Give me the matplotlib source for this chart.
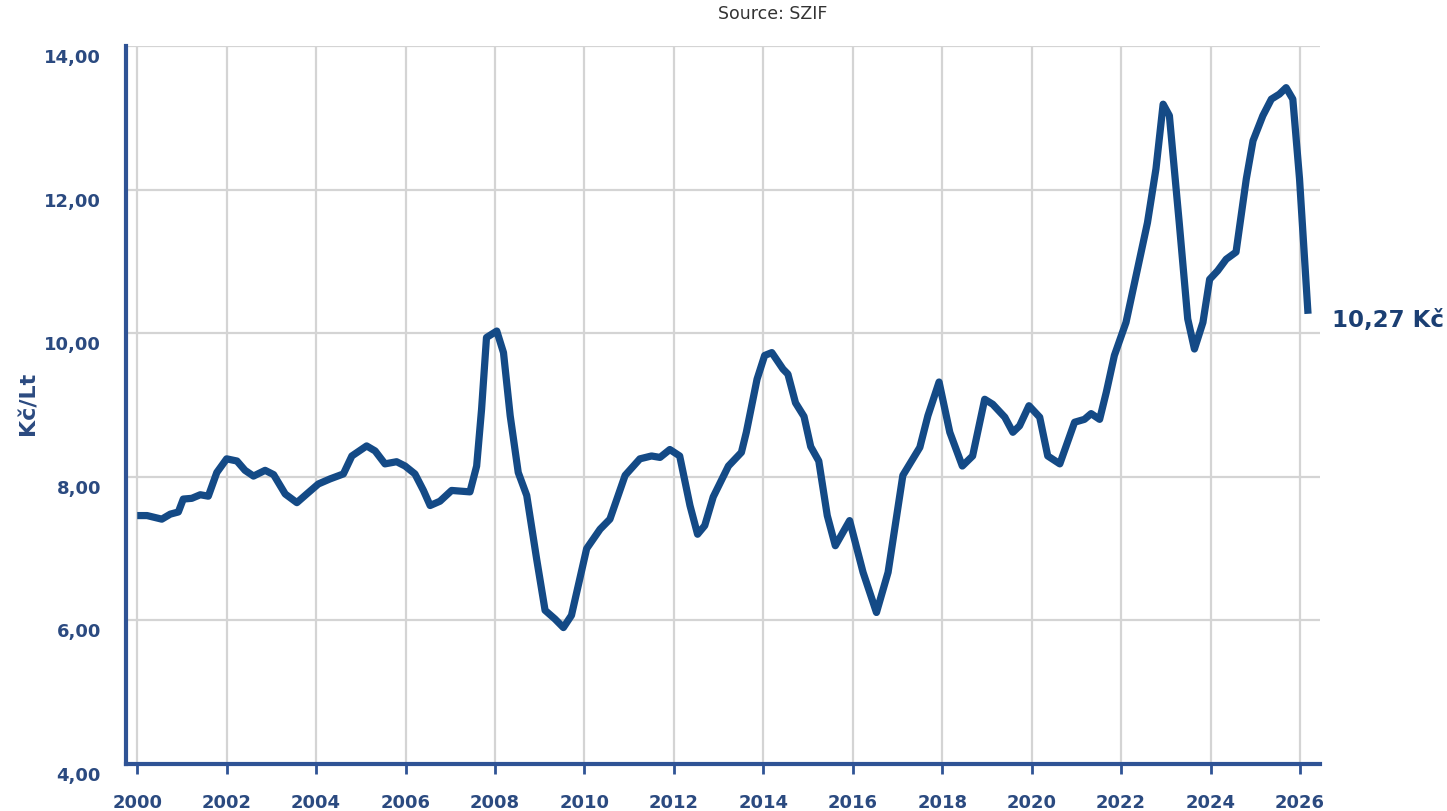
import matplotlib
matplotlib.use("Agg")
import matplotlib.pyplot as plt
import matplotlib.transforms as mtransforms

# milk purchase price, CZK per litre
years = [2000.00, 2000.22, 2000.55, 2000.74, 2000.92, 2001.03, 2001.22, 2001.41, 2001.59, 2001.78,
         2002.00, 2002.23, 2002.41, 2002.60, 2002.86, 2003.05, 2003.31, 2003.57, 2003.79, 2004.05,
         2004.31, 2004.61, 2004.80, 2005.13, 2005.32, 2005.54, 2005.80, 2005.99, 2006.21, 2006.40,
         2006.55, 2006.77, 2007.03, 2007.44, 2007.59, 2007.70, 2007.81, 2008.04, 2008.19, 2008.34,
         2008.52, 2008.71, 2008.93, 2009.12, 2009.34, 2009.53, 2009.71, 2010.05, 2010.35, 2010.57,
         2010.91, 2011.24, 2011.50, 2011.69, 2011.91, 2012.13, 2012.36, 2012.53, 2012.69, 2012.88,
         2013.22, 2013.51, 2013.62, 2013.86, 2014.03, 2014.19, 2014.44, 2014.55, 2014.72, 2014.91,
         2015.06, 2015.24, 2015.43, 2015.61, 2015.93, 2016.23, 2016.53, 2016.79, 2017.12, 2017.50,
         2017.68, 2017.93, 2018.17, 2018.45, 2018.68, 2018.95, 2019.13, 2019.40, 2019.58, 2019.73,
         2019.94, 2020.18, 2020.36, 2020.63, 2020.96, 2021.18, 2021.33, 2021.52, 2021.67, 2021.85,
         2022.11, 2022.59, 2022.78, 2022.94, 2023.08, 2023.30, 2023.49, 2023.64, 2023.83, 2023.98,
         2024.16, 2024.35, 2024.57, 2024.80, 2024.95, 2025.17, 2025.36, 2025.54, 2025.69, 2025.84,
         2025.99, 2026.18]
prices = [7.46, 7.46, 7.41, 7.48, 7.51, 7.69, 7.70, 7.75, 7.73, 8.06,
          8.25, 8.22, 8.09, 8.01, 8.09, 8.03, 7.76, 7.64, 7.76, 7.90,
          7.97, 8.04, 8.29, 8.43, 8.36, 8.18, 8.21, 8.15, 8.04, 7.81,
          7.60, 7.66, 7.81, 7.79, 8.15, 8.94, 9.94, 10.03, 9.73, 8.85,
          8.06, 7.74, 6.86, 6.14, 6.02, 5.90, 6.07, 7.00, 7.27, 7.41,
          8.02, 8.25, 8.29, 8.27, 8.38, 8.29, 7.60, 7.20, 7.32, 7.72,
          8.15, 8.34, 8.62, 9.36, 9.69, 9.73, 9.50, 9.43, 9.03, 8.84,
          8.42, 8.22, 7.46, 7.04, 7.39, 6.67, 6.11, 6.67, 8.02, 8.41,
          8.85, 9.32, 8.62, 8.15, 8.29, 9.08, 9.01, 8.83, 8.62, 8.71,
          8.99, 8.83, 8.29, 8.18, 8.76, 8.80, 8.88, 8.80, 9.18, 9.69,
          10.15, 11.54, 12.29, 13.19, 13.03, 11.54, 10.20, 9.78, 10.15, 10.75,
          10.87, 11.03, 11.13, 12.15, 12.68, 13.03, 13.26, 13.33, 13.42, 13.26,
          12.15, 10.27]

x_ticks = list(range(2000, 2027, 2))
y_ticks = [4, 6, 8, 10, 12, 14]
last_label = "10,27 Kč"

navy = "#2b4a80"
line_col = "#144a86"

fig = plt.figure(figsize=(14.47, 8.12), dpi=100)
ax = fig.add_axes([0.0871, 0.0579, 0.8252, 0.8842])

ax.plot(years, prices, color=line_col, lw=5.2, solid_joinstyle="round", solid_capstyle="butt", zorder=3)

ax.set_xlim(1999.75, 2026.45)
ax.set_ylim(4, 14)
ax.set_xticks(x_ticks)
ax.set_yticks(y_ticks)
ax.set_xticklabels([str(y) for y in x_ticks])
ax.set_yticklabels([f"{v:.2f}".replace(".", ",") for v in y_ticks])

ax.grid(True, color="#d4d4d4", lw=1.6)
ax.set_axisbelow(True)

for side in ["top", "right"]:
    ax.spines[side].set_visible(False)
for side in ["left", "bottom"]:
    ax.spines[side].set_color("#2f5395")
    ax.spines[side].set_linewidth(3)

ax.tick_params(axis="x", length=7, width=2, color="#2f5395", pad=14,
               labelsize=13, labelcolor=navy)
ax.tick_params(axis="y", length=0, pad=18, labelsize=13, labelcolor=navy)
for lab in ax.get_xticklabels() + ax.get_yticklabels():
    lab.set_fontweight("bold")

# y labels sit a little below their grid lines
offset = mtransforms.ScaledTranslation(0, -9 / 100, fig.dpi_scale_trans)
for lab in ax.get_yticklabels():
    lab.set_transform(lab.get_transform() + offset)

ax.set_ylabel("Kč/Lt", fontsize=16, fontweight="bold", color=navy)
ax.yaxis.set_label_coords(-0.073, 0.504)

ax.annotate(last_label, xy=(years[-1], prices[-1]), xytext=(17, -4),
            textcoords="offset points", fontsize=16.5, fontweight="bold",
            color="#1b3f73", va="center", ha="left", annotation_clip=False)

fig.text(0.534, 0.983, "Source: SZIF", ha="center", va="center",
         fontsize=12.5, family="DejaVu Sans", color="#333333")

fig.savefig("out.png", dpi=100, facecolor="white")
